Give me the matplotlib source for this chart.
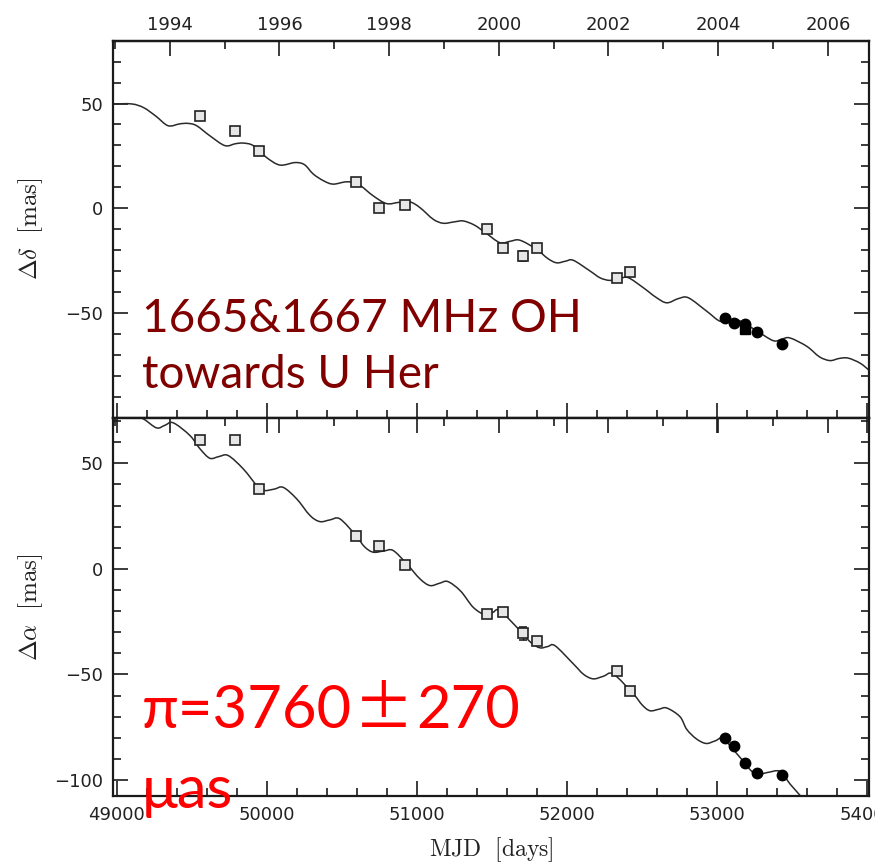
import numpy as np
import matplotlib
matplotlib.use("Agg")
import matplotlib.pyplot as plt
from matplotlib.path import Path
from matplotlib.patches import PathPatch, Rectangle
from matplotlib.ticker import MultipleLocator, FixedLocator, FormatStrFormatter

plt.rcParams['mathtext.fontset'] = 'cm'

# model curve, Dec offset
top_curve_mjd = [48976, 49100, 49180, 49260, 49342, 49420, 49476, 49532, 49620, 49720,
                 49790, 49842, 49909, 49998, 50087, 50187, 50250, 50309, 50380, 50442,
                 50531, 50608, 50708, 50797, 50880, 50953, 51019, 51108, 51175, 51250,
                 51308, 51380, 51452, 51552, 51620, 51685, 51796, 51870, 51930, 51990,
                 52041, 52152, 52220, 52285, 52350, 52407, 52507, 52590, 52663, 52740,
                 52807, 52929, 53018, 53090, 53150, 53260, 53373, 53430, 53484, 53596,
                 53680, 53750, 53810, 53870, 53950, 54012]
top_curve_val = [49.8, 49.8, 48.0, 44.0, 39.4, 40.3, 40.5, 39.4, 34.6, 29.9,
                 30.8, 31.1, 29.9, 24.2, 20.6, 21.8, 20.8, 16.3, 13.0, 11.5,
                 12.6, 11.5, 5.9, 2.2, 2.8, 3.0, 0.3, -5.3, -7.2, -6.5,
                 -6.1, -8.0, -11.5, -16.5, -15.8, -15.3, -19.6, -24.0, -26.1, -25.3,
                 -24.9, -30.0, -33.3, -34.5, -33.6, -33.2, -38.0, -42.5, -45.2, -43.2,
                 -42.8, -49.2, -54.0, -53.5, -53.8, -58.5, -63.3, -62.5, -62.0, -66.0,
                 -71.0, -72.8, -71.8, -71.6, -74.0, -77.5]

# model curve, RA offset
bot_curve_mjd = [48976, 49100, 49176, 49265, 49320, 49376, 49487, 49554, 49620, 49680,
                 49742, 49842, 49942, 49985, 50050, 50109, 50198, 50287, 50353, 50420,
                 50486, 50593, 50650, 50708, 50780, 50841, 50931, 51019, 51086, 51150,
                 51205, 51290, 51374, 51452, 51505, 51552, 51685, 51760, 51819, 51870,
                 51919, 52041, 52110, 52174, 52240, 52307, 52440, 52500, 52551, 52610,
                 52663, 52751, 52796, 52860, 52925, 52985, 53040, 53151, 53251, 53330,
                 53418, 53484, 53562, 53700]
bot_curve_val = [77.0, 73.0, 71.1, 66.8, 68.0, 69.2, 63.2, 56.9, 52.4, 53.2,
                 53.7, 47.4, 38.7, 37.1, 37.8, 38.6, 33.2, 25.3, 22.4, 23.2,
                 23.7, 15.8, 10.5, 7.9, 8.5, 8.7, 2.4, -4.7, -7.9, -6.8,
                 -6.0, -10.5, -18.2, -21.7, -20.6, -19.8, -29.2, -35.0, -37.4, -36.8,
                 -36.4, -45.0, -50.0, -52.1, -50.9, -49.8, -59.2, -64.5, -67.2, -66.5,
                 -65.9, -70.0, -76.0, -80.5, -82.7, -81.5, -80.6, -89.3, -97.2, -96.5,
                 -95.9, -101.9, -108.2, -120.0]

# earlier epochs (open squares)
sq_mjd = [49554, 49785, 49949, 50593, 50748, 50919, 51464, 51570, 51708, 51796, 52333, 52421]
top_sq_val = [44.2, 37.0, 27.1, 12.3, 0.0, 1.6, -10.1, -19.2, -22.9, -19.2, -33.2, -30.5]
top_sq_err = [1.0, 1.0, 1.0, 1.0, 1.2, 1.0, 1.0, 1.0, 2.4, 1.0, 1.0, 1.0]
bot_sq_val = [61.1, 61.1, 37.9, 15.8, 10.7, 2.0, -21.3, -20.2, -30.5, -34.0, -48.5, -57.7]
bot_sq_err = [1.0, 1.0, 1.0, 1.0, 1.0, 1.0, 1.0, 1.0, 3.0, 1.0, 1.0, 1.0]

# recent epochs (filled circles)
dot_mjd = [53049, 53110, 53186, 53264, 53429]
top_dot_val = [-52.6, -54.7, -55.4, -59.2, -64.9]
bot_dot_val = [-80.3, -84.1, -92.0, -96.5, -97.6]
top_fsq_mjd = [53186]
top_fsq_val = [-57.8]


def mjd2yr(m):
    return 1994 + (np.asarray(m, dtype=float) - 49353) / 365.25


def yr2mjd(y):
    return 49353 + (np.asarray(y, dtype=float) - 1994) * 365.25


def smooth_path(x, y):
    # smooth Bezier curve through the read points
    pts = np.column_stack([x, y]).astype(float)
    n = len(pts)
    verts, codes = [pts[0]], [Path.MOVETO]
    for i in range(n - 1):
        p0, p1 = pts[max(i - 1, 0)], pts[i]
        p2, p3 = pts[i + 1], pts[min(i + 2, n - 1)]
        verts += [p1 + (p2 - p0) / 6, p2 - (p3 - p1) / 6, p2]
        codes += [Path.CURVE4] * 3
    return Path(verts, codes)


fig = plt.figure(figsize=(8.85, 8.63), dpi=100)
L, W = 113 / 885, 756 / 885
ax1 = fig.add_axes([L, 0.5162, W, 0.9528 - 0.5162])
ax2 = fig.add_axes([L, 0.0776, W, 0.5162 - 0.0776])

ink = '#1a1a1a'


def style(ax, ylim, yticks):
    ax.set_xlim(48975, 54010)
    ax.set_ylim(*ylim)
    ax.xaxis.set_major_locator(MultipleLocator(1000))
    ax.xaxis.set_minor_locator(MultipleLocator(200))
    ax.yaxis.set_major_locator(FixedLocator(yticks))
    ax.yaxis.set_minor_locator(MultipleLocator(10))
    ax.tick_params(which='both', direction='in', right=True, color=ink, width=1.2,
                   labelsize=13, labelcolor='#222222')
    ax.tick_params(which='major', length=11, pad=7)
    ax.tick_params(which='minor', length=6)
    for s in ax.spines.values():
        s.set_linewidth(1.6)
        s.set_color(ink)
    sec = ax.secondary_xaxis('top', functions=(mjd2yr, yr2mjd))
    sec.xaxis.set_major_locator(MultipleLocator(2))
    sec.xaxis.set_minor_locator(MultipleLocator(1))
    sec.xaxis.set_major_formatter(FormatStrFormatter('%d'))
    sec.tick_params(which='both', direction='in', color=ink, width=1.2,
                    labelsize=13, labelcolor='#222222')
    sec.tick_params(which='major', length=11, pad=5)
    sec.tick_params(which='minor', length=6)
    sec.spines['top'].set_linewidth(1.6)
    return sec


sec1 = style(ax1, (-100, 80), [-50, 0, 50])
ax1.tick_params(top=False, labelbottom=False)
sec2 = style(ax2, (-107.6, 71.7), [-100, -50, 0, 50])
ax2.tick_params(top=True)
sec2.tick_params(labeltop=False)

panels = [(ax1, top_curve_mjd, top_curve_val, top_sq_val, top_sq_err, top_dot_val),
          (ax2, bot_curve_mjd, bot_curve_val, bot_sq_val, bot_sq_err, bot_dot_val)]
for ax, cm, cv, sv, se, dv in panels:
    ax.add_patch(PathPatch(smooth_path(cm, cv), fill=False, edgecolor='#2a2a2a',
                           lw=1.1, zorder=2))
    ax.errorbar(sq_mjd, sv, yerr=se, fmt='s', ms=6.5, mfc='#e6e6e6', mec='#222222',
                mew=1.2, ecolor='#222222', elinewidth=1.0, capsize=3, zorder=3)
    ax.plot(dot_mjd, dv, 'o', ms=7.5, color='black', zorder=4)
ax1.plot(top_fsq_mjd, top_fsq_val, 's', ms=7, color='black', zorder=4)

ax1.set_ylabel(r'$\Delta\delta\ \ [\mathrm{mas}]$', fontsize=18, color='#222222')
ax2.set_ylabel(r'$\Delta\alpha\ \ [\mathrm{mas}]$', fontsize=18, color='#222222')
ax1.yaxis.set_label_coords(-0.09, 0.5)
ax2.yaxis.set_label_coords(-0.09, 0.5)
ax2.set_xlabel(r'$\mathrm{MJD\ \ [days]}$', fontsize=17, color='#222222')
ax2.xaxis.set_label_coords(0.5, -0.104)

fig.text(142 / 885, 1 - 332 / 863, '1665&1667 MHz OH', color='#800000',
         fontsize=33, family='Lato', va='baseline', ha='left')
fig.text(142 / 885, 1 - 388 / 863, 'towards U Her', color='#800000',
         fontsize=33, family='Lato', va='baseline', ha='left')

# parallax line: wide plus-minus sign from a CJK font, pieces set side by side
fig.canvas.draw()
renderer = fig.canvas.get_renderer()
x_px = 142
for piece, fam in [('π=3760', ['Lato', 'DejaVu Sans']),
                   ('±', ['Noto Sans CJK SC', 'DejaVu Sans']),
                   ('270', ['Lato', 'DejaVu Sans'])]:
    t = fig.text(x_px / 885, 1 - 728 / 863, piece, color='#ff0000', fontsize=43,
                 family=fam, va='baseline', ha='left')
    x_px = t.get_window_extent(renderer).x1 + 2
fig.text(142 / 885, 1 - 808 / 863, 'μas', color='#ff0000',
         fontsize=43, family=['Lato', 'DejaVu Sans'], va='baseline', ha='left')

# the source picture is cropped just right of the frame
fig.add_artist(Rectangle((875 / 885, 0), 10 / 885, 1, transform=fig.transFigure,
                         facecolor='white', edgecolor='none', zorder=10))

fig.savefig('out.png', dpi=100)
